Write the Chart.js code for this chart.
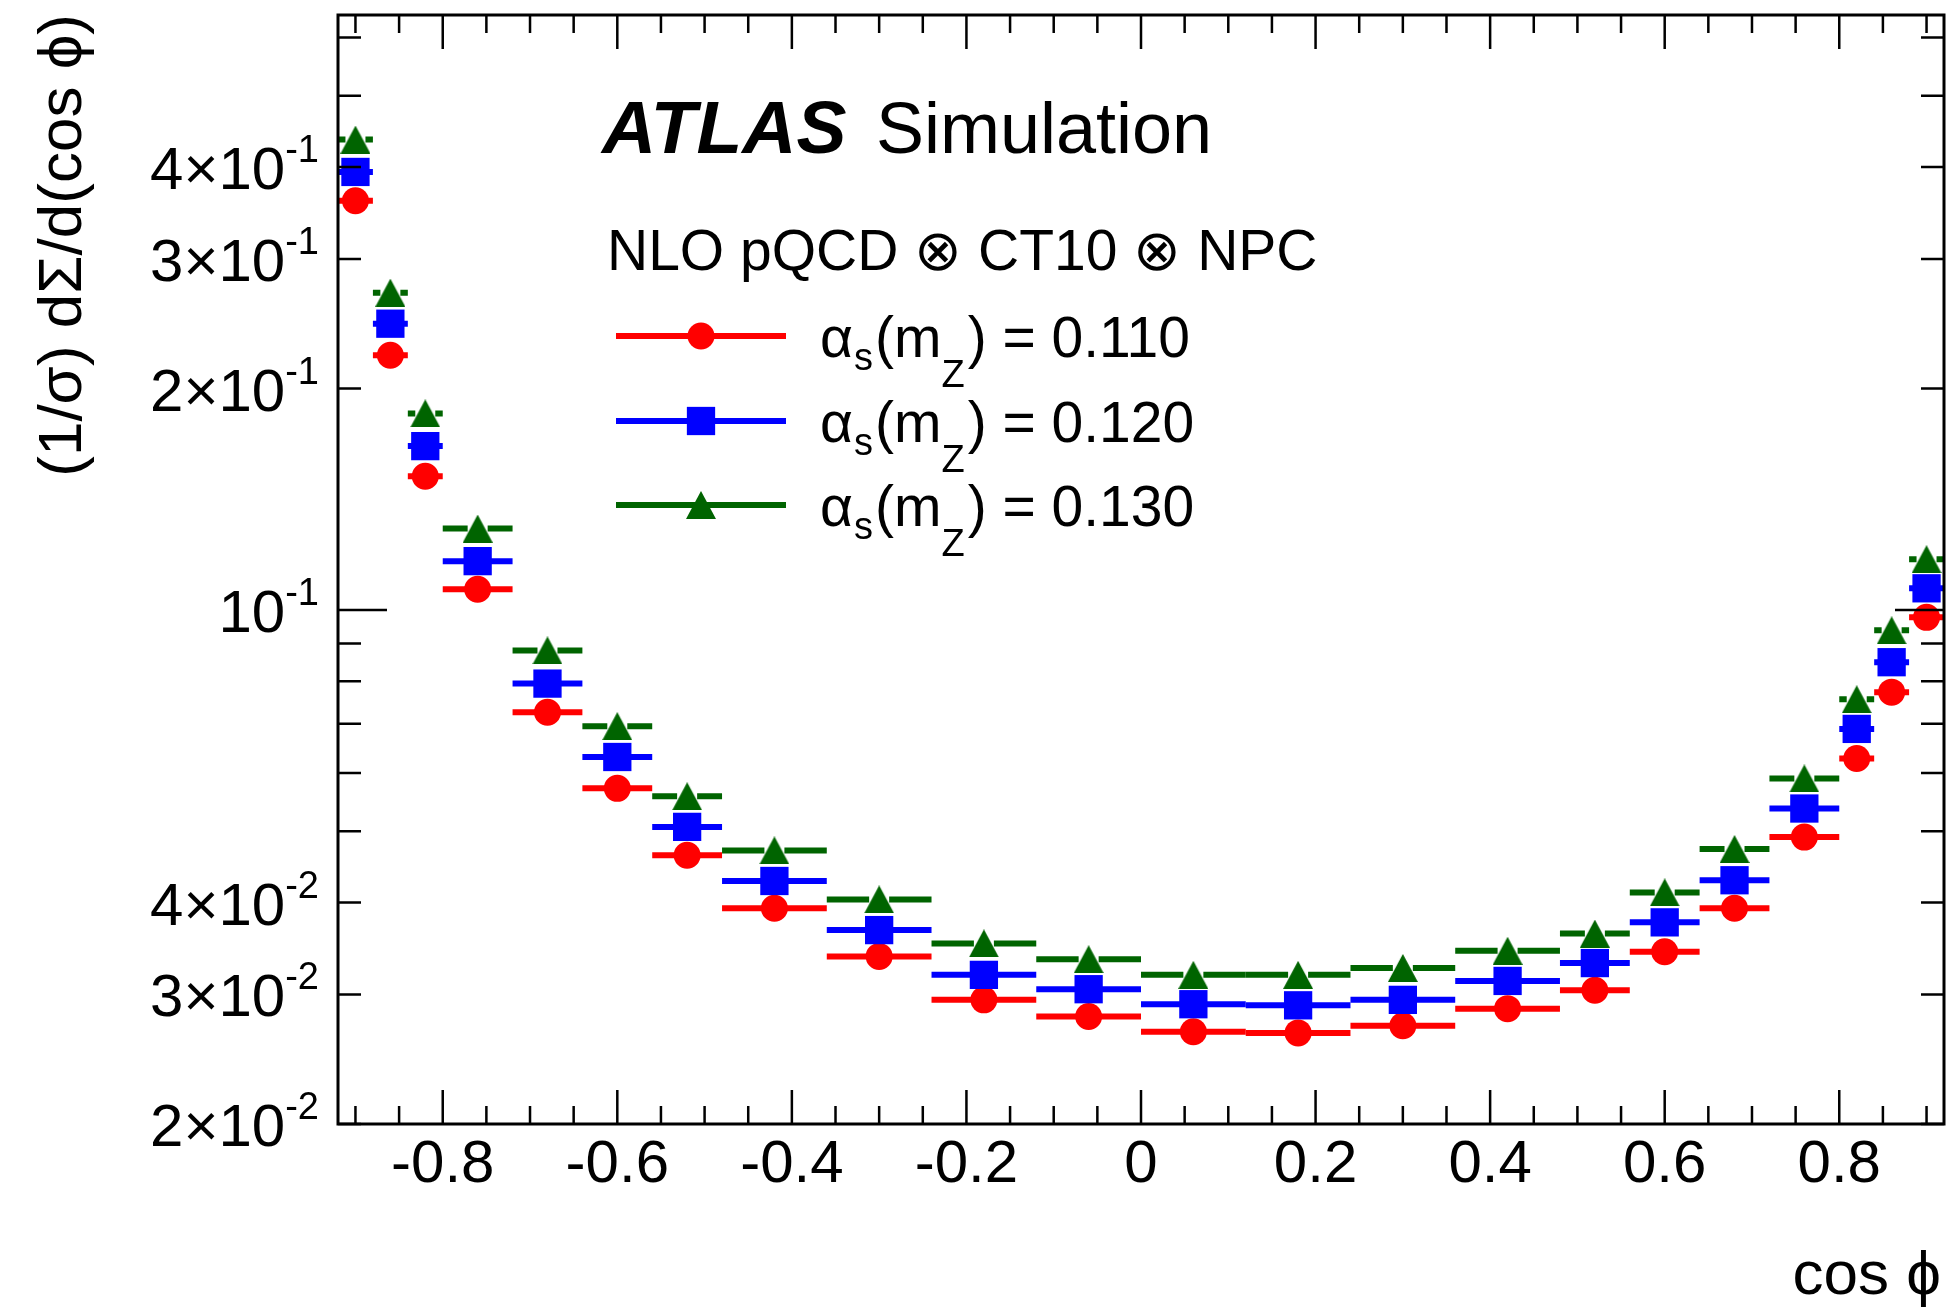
<!DOCTYPE html>
<html>
<head>
<meta charset="utf-8">
<title>TEEC vs alpha_s</title>
<script src="https://cdn.jsdelivr.net/npm/chart.js@4.4.1/dist/chart.umd.min.js"></script>
<style>
  html, body { margin: 0; padding: 0; background: #ffffff; }
  canvas { display: block; }
</style>
</head>
<body>
<canvas id="chartTeec" width="1951" height="1314"></canvas>
<script>
// Bins in cos(phi)
const binEdges = [-0.92, -0.88, -0.84, -0.80, -0.72, -0.64, -0.56, -0.48, -0.36, -0.24, -0.12, 0,
                  0.12, 0.24, 0.36, 0.48, 0.56, 0.64, 0.72, 0.80, 0.84, 0.88, 0.92];
const binCenters = [-0.90, -0.86, -0.82, -0.76, -0.68, -0.60, -0.52, -0.42, -0.30, -0.18, -0.06,
                    0.06, 0.18, 0.30, 0.42, 0.52, 0.60, 0.68, 0.76, 0.82, 0.86, 0.90];

// (1/sigma) dSigma/d(cos phi) for each alpha_s(mZ)
const as110 = [0.360, 0.222, 0.152, 0.1067, 0.0726, 0.0572, 0.0464, 0.0393, 0.0338, 0.0295, 0.0280,
               0.0267, 0.0266, 0.0272, 0.0287, 0.0304, 0.0343, 0.0393, 0.0491, 0.0628, 0.0773, 0.0977];
const as120 = [0.394, 0.245, 0.167, 0.1165, 0.0794, 0.0631, 0.0507, 0.0428, 0.0367, 0.0319, 0.0305,
               0.0291, 0.0290, 0.0295, 0.0313, 0.0331, 0.0376, 0.0429, 0.0537, 0.0689, 0.0849, 0.1070];
const as130 = [0.436, 0.270, 0.185, 0.129, 0.0881, 0.0695, 0.0558, 0.0471, 0.0404, 0.0352, 0.0335,
               0.0319, 0.0319, 0.0326, 0.0344, 0.0363, 0.0413, 0.0473, 0.0590, 0.0756, 0.0938, 0.1172];

const seriesValues = ["0.110", "0.120", "0.130"];

// Axes
const xMin = -0.92, xMax = 0.92;
const yMin = 0.02, yMax = 0.644;
const xTickValues = [-0.8, -0.6, -0.4, -0.2, 0, 0.2, 0.4, 0.6, 0.8];
const xTickLabels = ["-0.8", "-0.6", "-0.4", "-0.2", "0", "0.2", "0.4", "0.6", "0.8"];
const xMinorTicks = [-0.9, -0.85, -0.75, -0.7, -0.65, -0.55, -0.5, -0.45, -0.35, -0.3, -0.25,
                     -0.15, -0.1, -0.05, 0.05, 0.1, 0.15, 0.25, 0.3, 0.35, 0.45, 0.5, 0.55,
                     0.65, 0.7, 0.75, 0.85, 0.9];
const yDecadeTicks = [0.1];
const yMinorTicks = [0.02, 0.03, 0.04, 0.05, 0.06, 0.07, 0.08, 0.09, 0.2, 0.3, 0.4, 0.5, 0.6];
const yLabelValues = [0.02, 0.03, 0.04, 0.1, 0.2, 0.3, 0.4];
const yLabelMantissa = ["2\u00d7", "3\u00d7", "4\u00d7", "", "2\u00d7", "3\u00d7", "4\u00d7"];
const yLabelExponent = ["-2", "-2", "-2", "-1", "-1", "-1", "-1"];

const FONT = '"Liberation Sans", Arial, Helvetica, sans-serif';
const RED = "#ff0000";
const BLUE = "#0000ff";
const GREEN = "#006400";
const PHI = "\u03d5";

// ROOT style full triangle marker
function makeTriangle(color, w, h) {
    const c = document.createElement("canvas");
    c.width = w;
    c.height = h;
    const g = c.getContext("2d");
    g.fillStyle = color;
    g.beginPath();
    g.moveTo(w / 2, 0);
    g.lineTo(w, h);
    g.lineTo(0, h);
    g.closePath();
    g.fill();
    return c;
}

function toPoints(values) {
    return binCenters.map((x, i) => ({ x, y: values[i] }));
}

// horizontal bars over the bin width, with a gap round the marker
const binBars = {
    id: "binBars",
    beforeDatasetDraw(chart, args) {
        const ds = chart.data.datasets[args.index];
        const xs = chart.scales.x;
        const ys = chart.scales.y;
        const area = chart.chartArea;
        const ctx = chart.ctx;
        const gap = 10;

        ctx.save();
        ctx.beginPath();
        ctx.rect(area.left, area.top, area.right - area.left, area.bottom - area.top);
        ctx.clip();
        ctx.strokeStyle = ds.backgroundColor;
        ctx.lineWidth = 6;
        ctx.lineCap = "butt";

        ds.data.forEach((p, i) => {
            const xl = xs.getPixelForValue(binEdges[i]);
            const xr = xs.getPixelForValue(binEdges[i + 1]);
            const xc = xs.getPixelForValue(p.x);
            const y = ys.getPixelForValue(p.y);
            ctx.beginPath();
            if (xc - gap > xl) {
                ctx.moveTo(xl, y);
                ctx.lineTo(xc - gap, y);
            }
            if (xc + gap < xr) {
                ctx.moveTo(xc + gap, y);
                ctx.lineTo(xr, y);
            }
            ctx.stroke();
        });
        ctx.restore();
    }
};

function drawAlphaLabel(ctx, x, base, value) {
    const big = "57px " + FONT;
    const small = "38px " + FONT;
    ctx.textAlign = "left";
    ctx.textBaseline = "alphabetic";

    ctx.font = big;
    ctx.fillText("\u03b1", x, base);
    x += ctx.measureText("\u03b1").width + 1;

    ctx.font = small;
    ctx.fillText("s", x, base + 13);
    x += ctx.measureText("s").width + 2;

    ctx.font = big;
    ctx.fillText("(m", x, base);
    x += ctx.measureText("(m").width;

    ctx.font = small;
    ctx.fillText("Z", x, base + 30);
    x += ctx.measureText("Z").width + 3;

    ctx.font = big;
    ctx.fillText(") = " + value, x, base);
}

// frame, inward ticks on all sides, labels, titles and legend
const rootAxes = {
    id: "rootAxes",
    afterDraw(chart) {
        const ctx = chart.ctx;
        const a = chart.chartArea;
        const xs = chart.scales.x;
        const ys = chart.scales.y;

        ctx.save();
        ctx.strokeStyle = "#000";
        ctx.fillStyle = "#000";

        // ticks
        ctx.lineWidth = 2.5;
        ctx.beginPath();
        xTickValues.forEach(v => {
            const x = xs.getPixelForValue(v);
            ctx.moveTo(x, a.bottom); ctx.lineTo(x, a.bottom - 34);
            ctx.moveTo(x, a.top); ctx.lineTo(x, a.top + 34);
        });
        xMinorTicks.forEach(v => {
            const x = xs.getPixelForValue(v);
            ctx.moveTo(x, a.bottom); ctx.lineTo(x, a.bottom - 18);
            ctx.moveTo(x, a.top); ctx.lineTo(x, a.top + 18);
        });
        yDecadeTicks.forEach(v => {
            const y = ys.getPixelForValue(v);
            ctx.moveTo(a.left, y); ctx.lineTo(a.left + 49, y);
            ctx.moveTo(a.right, y); ctx.lineTo(a.right - 49, y);
        });
        yMinorTicks.forEach(v => {
            const y = ys.getPixelForValue(v);
            ctx.moveTo(a.left, y); ctx.lineTo(a.left + 23, y);
            ctx.moveTo(a.right, y); ctx.lineTo(a.right - 23, y);
        });
        ctx.stroke();

        // frame
        ctx.lineWidth = 3;
        ctx.strokeRect(a.left, a.top, a.right - a.left, a.bottom - a.top);

        // x tick labels
        ctx.font = "60px " + FONT;
        ctx.textAlign = "center";
        ctx.textBaseline = "alphabetic";
        xTickValues.forEach((v, i) => {
            ctx.fillText(xTickLabels[i], xs.getPixelForValue(v), 1182);
        });

        // y tick labels, a x 10^b
        const labelRight = 319;
        yLabelValues.forEach((v, i) => {
            const base = ys.getPixelForValue(v) + 22;
            ctx.textAlign = "right";
            ctx.font = "38px " + FONT;
            const supW = ctx.measureText(yLabelExponent[i]).width;
            ctx.fillText(yLabelExponent[i], labelRight, base - 27);
            ctx.font = "60px " + FONT;
            ctx.fillText(yLabelMantissa[i] + "10", labelRight - supW, base);
        });

        // axis titles
        ctx.font = "62px " + FONT;
        ctx.textAlign = "right";
        ctx.fillText("cos " + PHI, 1941, 1294);

        ctx.save();
        ctx.translate(81, 14);
        ctx.rotate(-Math.PI / 2);
        ctx.textAlign = "right";
        ctx.fillText("(1/\u03c3) d\u03a3/d(cos " + PHI + ")", 0, 0);
        ctx.restore();

        // ATLAS label
        ctx.textAlign = "left";
        ctx.font = "italic bold 75px " + FONT;
        ctx.fillText("ATLAS", 602, 153);
        ctx.font = "72px " + FONT;
        ctx.fillText("Simulation", 876, 153);

        ctx.font = "57px " + FONT;
        ctx.fillText("NLO pQCD \u2297 CT10 \u2297 NPC", 607, 270);

        // legend
        const rows = [336, 421, 505];
        chart.data.datasets.forEach((ds, i) => {
            const y = rows[i];
            ctx.strokeStyle = ds.backgroundColor;
            ctx.lineWidth = 6;
            ctx.beginPath();
            ctx.moveTo(616, y);
            ctx.lineTo(786, y);
            ctx.stroke();

            ctx.fillStyle = ds.backgroundColor;
            Chart.helpers.drawPoint(ctx, {
                pointStyle: ds.pointStyle,
                radius: ds.pointRadius,
                rotation: 0,
                borderWidth: 0
            }, 701, y);

            ctx.fillStyle = "#000";
            drawAlphaLabel(ctx, 820, y + 21, seriesValues[i]);
        });

        ctx.restore();
    }
};

const chartTeec = new Chart(document.getElementById("chartTeec"), {
    type: "scatter",
    data: {
        datasets: [{
            label: "alpha_s(mZ) = 0.110",
            data: toPoints(as110),
            pointStyle: "circle",
            pointRadius: 13.5,
            backgroundColor: RED,
            borderColor: RED,
            borderWidth: 0,
            clip: 0,
            order: 3
        }, {
            label: "alpha_s(mZ) = 0.120",
            data: toPoints(as120),
            pointStyle: "rect",
            pointRadius: 20,
            backgroundColor: BLUE,
            borderColor: BLUE,
            borderWidth: 0,
            clip: 0,
            order: 2
        }, {
            label: "alpha_s(mZ) = 0.130",
            data: toPoints(as130),
            pointStyle: makeTriangle(GREEN, 30, 28),
            pointRadius: 15,
            backgroundColor: GREEN,
            borderColor: GREEN,
            borderWidth: 0,
            clip: 0,
            order: 1
        }]
    },
    options: {
        responsive: false,
        animation: false,
        events: [],
        layout: {
            autoPadding: false,
            padding: { left: 338, right: 7, top: 15, bottom: 190 }
        },
        plugins: {
            legend: { display: false },
            tooltip: { enabled: false }
        },
        scales: {
            x: { type: "linear", min: xMin, max: xMax, display: false },
            y: { type: "logarithmic", min: yMin, max: yMax, display: false }
        }
    },
    plugins: [binBars, rootAxes]
});
</script>
</body>
</html>
